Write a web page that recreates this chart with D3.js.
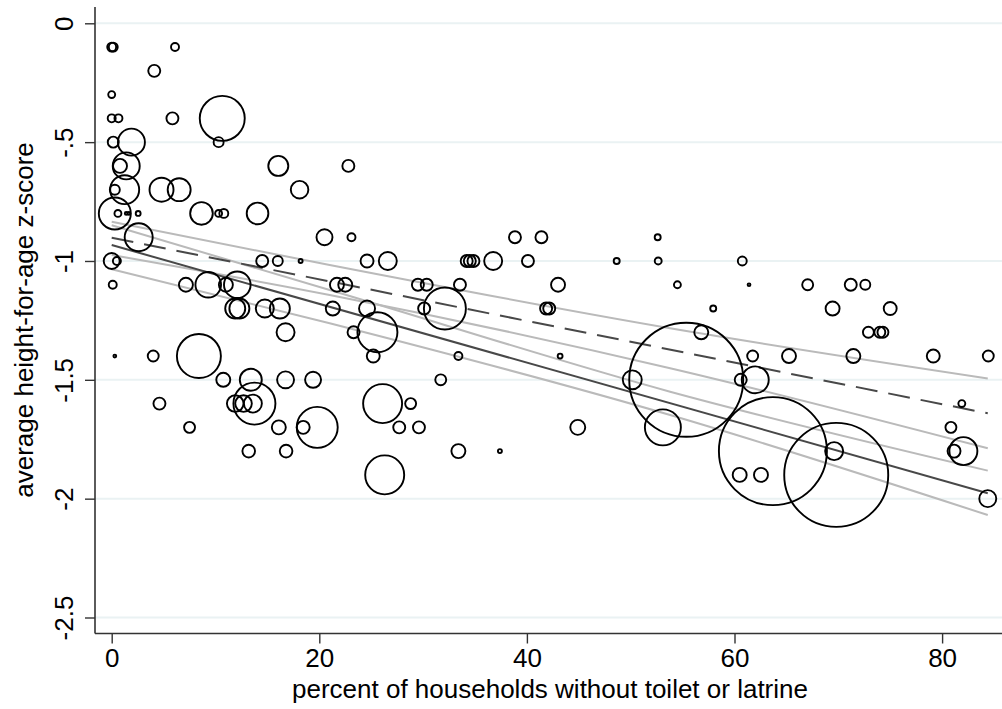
<!DOCTYPE html>
<html><head><meta charset="utf-8">
<script src="https://cdn.jsdelivr.net/npm/d3@7"></script>
<style>body{margin:0;background:#fff} svg{display:block}</style>
</head><body>
<script>
// ---- data ----
const pctNoToilet = [0.0,0.15,6.1, 4.1, 0.0, 0.0,0.65,5.85,10.65, 0.15,1.9,10.3, 0.8,1.4,16.05,22.8,
  0.3,1.25,4.8,6.5,18.1, 0.3,0.6,1.4,1.65,2.55,8.65,10.3,10.8,14.05, 2.6,20.5,23.1,38.85,41.4,52.6,
  0.0,0.5,14.5,16.0,18.2,24.6,26.6,34.2,34.5,34.85,36.75,40.1,48.65,52.65,60.75,
  0.1,7.15,9.3,11.0,12.1,21.7,22.5,29.5,30.35,33.55,43.0,54.5,61.4,67.05,71.2,72.6,
  11.9,12.3,14.75,16.2,21.3,24.6,30.1,32.1,41.85,42.15,57.95,69.45,75.0,
  16.75,23.3,25.6,56.8,72.9,74.0,74.3,
  0.3,4.0,8.4,25.2,33.4,43.2,61.75,65.25,71.45,79.15,84.45,
  10.75,13.4,16.75,19.4,31.7,50.15,55.35,60.6,62.0,
  4.6,11.9,12.7,13.6,13.75,26.1,28.8,81.9,
  7.5,16.1,18.45,19.8,27.7,29.6,44.9,53.1,80.85,
  13.2,16.8,33.4,37.4,63.7,69.6,81.15,82.05,
  26.3,60.5,62.55,69.8,
  84.4];
const hazScore = [-0.1,-0.1,-0.1, -0.2, -0.3, -0.4,-0.4,-0.4,-0.4, -0.5,-0.5,-0.5, -0.6,-0.6,-0.6,-0.6,
  -0.7,-0.7,-0.7,-0.7,-0.7, -0.8,-0.8,-0.8,-0.8,-0.8,-0.8,-0.8,-0.8,-0.8, -0.9,-0.9,-0.9,-0.9,-0.9,-0.9,
  -1,-1,-1,-1,-1,-1,-1,-1,-1,-1,-1,-1,-1,-1,-1,
  -1.1,-1.1,-1.1,-1.1,-1.1,-1.1,-1.1,-1.1,-1.1,-1.1,-1.1,-1.1,-1.1,-1.1,-1.1,-1.1,
  -1.2,-1.2,-1.2,-1.2,-1.2,-1.2,-1.2,-1.2,-1.2,-1.2,-1.2,-1.2,-1.2,
  -1.3,-1.3,-1.3,-1.3,-1.3,-1.3,-1.3,
  -1.4,-1.4,-1.4,-1.4,-1.4,-1.4,-1.4,-1.4,-1.4,-1.4,-1.4,
  -1.5,-1.5,-1.5,-1.5,-1.5,-1.5,-1.5,-1.5,-1.5,
  -1.6,-1.6,-1.6,-1.6,-1.6,-1.6,-1.6,-1.6,
  -1.7,-1.7,-1.7,-1.7,-1.7,-1.7,-1.7,-1.7,-1.7,
  -1.8,-1.8,-1.8,-1.8,-1.8,-1.8,-1.8,-1.8,
  -1.9,-1.9,-1.9,-1.9,
  -2.0];
const popWeight = [20,20,16, 36, 12, 16,16,36,506, 30,182,25, 49,182,100,36,
  25,210,144,132,77, 256,12,2,2,6,128,12,20,117, 196,64,16,36,36,9,
  64,16,36,25,4,42,81,36,36,36,81,36,9,12,20,
  16,49,164,49,177,49,49,36,36,36,49,12,2,30,36,25,
  100,100,81,100,49,64,36,441,36,36,9,49,42,
  81,36,400,49,30,30,30,
  2,30,484,42,16,6,30,49,49,42,30,
  49,121,72,64,30,90,3249,36,182,
  36,69,69,81,441,380,30,12,
  30,49,42,420,36,36,56,324,30,
  40,40,49,4,2916,81,42,196,
  380,49,49,2704,
  72];

const xTicks = [0, 20, 40, 60, 80];
const yTicks = [0, -0.5, -1, -1.5, -2, -2.5];
const yTickLabels = ["0", "-.5", "-1", "-1.5", "-2", "-2.5"];

// fitted lines
const fitX = [0, 84.4];
const fitWeighted = [-0.933, -1.977];
const fitUnweighted = [-0.902, -1.641];
// confidence bands
const ciX = [0, 21, 53.8, 84.4];
const ciUnwUpper = [-0.835, -1.017, -1.283, -1.494];
const ciUnwLower = [-0.975, -1.143, -1.451, -1.788];
const ciWUpper = [-0.85, -1.122, -1.55, -1.882];
const ciWLower = [-1.035, -1.262, -1.648, -2.069];

const xTitle = "percent of households without toilet or latrine";
const yTitle = "average height-for-age z-score";

// ---- drawing ----
(function () {
const W = 1002, H = 709;
const svg = d3.select("body").append("svg").attr("width", W).attr("height", H);
const FONT = "'Liberation Sans',Arial,Helvetica,sans-serif";

const x = d3.scaleLinear().domain([0, 80]).range([111.7, 942.1]);
const y = d3.scaleLinear().domain([0, -2.5]).range([23.3, 617.5]);
const r = d3.scaleSqrt().domain([0, 3249]).range([0, 57]);

const pL = 95, pB = 633.5, pT = 7, pR = W;

// gridlines
svg.append("g").selectAll("line").data(yTicks).join("line")
  .attr("x1", pL).attr("x2", pR)
  .attr("y1", d => y(d)).attr("y2", d => y(d))
  .attr("stroke", "#eaf2f3").attr("stroke-width", 2);

// confidence lines
const line = d3.line().x(d => x(d[0])).y(d => y(d[1])).curve(d3.curveMonotoneX);
[ciUnwUpper, ciUnwLower, ciWUpper, ciWLower].forEach(arr => {
  svg.append("path").attr("d", line(ciX.map((v, i) => [v, arr[i]])))
    .attr("fill", "none").attr("stroke", "#bababa").attr("stroke-width", 2);
});
// fits
svg.append("path").attr("d", line(fitX.map((v, i) => [v, fitUnweighted[i]])))
  .attr("fill", "none").attr("stroke", "#484848").attr("stroke-width", 2)
  .attr("stroke-dasharray", "22,11");
svg.append("path").attr("d", line(fitX.map((v, i) => [v, fitWeighted[i]])))
  .attr("fill", "none").attr("stroke", "#484848").attr("stroke-width", 2);

// bubbles
const pts = pctNoToilet.map((v, i) => ({x: v, y: hazScore[i], w: popWeight[i]}));
svg.append("g").selectAll("circle").data(pts).join("circle")
  .attr("cx", d => x(d.x)).attr("cy", d => y(d.y)).attr("r", d => r(d.w))
  .attr("fill", "none").attr("stroke", "#000").attr("stroke-width", 1.9);

// axes
const xAxis = d3.axisBottom(x).tickValues(xTicks).tickSize(10).tickPadding(5).tickFormat(d3.format("d"));
const gx = svg.append("g").attr("transform", `translate(0,${pB})`).call(xAxis);
gx.select(".domain").attr("d", `M${pL},0H${pR}`).attr("stroke", "#333").attr("stroke-width", 1.6);
gx.selectAll(".tick line").attr("stroke", "#333").attr("stroke-width", 1.4);
gx.selectAll(".tick text").attr("font-family", FONT).attr("font-size", 26).attr("fill", "#000");

const yAxis = d3.axisLeft(y).tickValues(yTicks).tickSize(10).tickFormat((d, i) => yTickLabels[i]);
const gy = svg.append("g").attr("transform", `translate(${pL},0)`).call(yAxis);
gy.select(".domain").attr("d", `M0,${pT}V${pB}`).attr("stroke", "#333").attr("stroke-width", 1.6);
gy.selectAll(".tick line").attr("stroke", "#333").attr("stroke-width", 1.4);
gy.selectAll(".tick text")
  .attr("font-family", FONT).attr("font-size", 26).attr("fill", "#000")
  .attr("text-anchor", "middle").attr("dy", null).attr("x", null)
  .attr("transform", "translate(-22,0) rotate(-90)");

// titles
svg.append("text").attr("x", 550).attr("y", 698).attr("text-anchor", "middle")
  .attr("font-family", FONT).attr("font-size", 26).text(xTitle);
svg.append("text").attr("transform", "translate(33,320) rotate(-90)").attr("text-anchor", "middle")
  .attr("font-family", FONT).attr("font-size", 26).text(yTitle);
})();
</script>
</body></html>
